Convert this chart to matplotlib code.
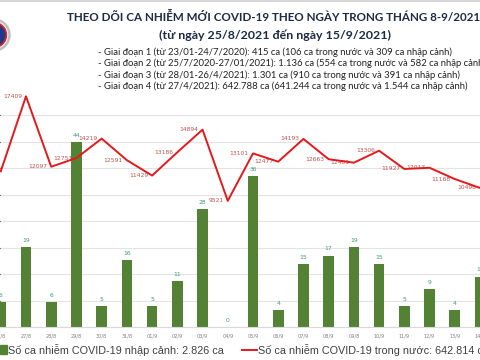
"""
COVID-19 daily cases chart (25/8 - 15/9/2021), cropped view.
Bars = imported cases (left, hidden scale), line = domestic cases (twin axis).
"""
import numpy as np
import matplotlib
matplotlib.use("Agg")
import matplotlib.pyplot as plt
from matplotlib.patches import Circle, Rectangle
from matplotlib.lines import Line2D

# --- data ---------------------------------------------------------------------
days = ["26/8", "27/8", "28/8", "29/8", "30/8", "31/8", "01/9", "02/9", "03/9", "04/9",
        "05/9", "06/9", "07/9", "08/9", "09/8", "10/9", "11/9", "12/9", "13/9", "14/9"]
imported = [6, 19, 6, 44, 5, 16, 5, 11, 28, 0,
            36, 4, 15, 17, 19, 15, 5, 9, 4, 12]
domestic = [11750, 17409, 12097, 12751, 14219, 12591, 11429, 13186, 14894, 9521,
            13101, 12477, 14193, 12663, 12401, 13306, 11927, 12017, 11168, 10496]

title = "THEO DÕI CA NHIỄM MỚI COVID-19 THEO NGÀY TRONG THÁNG 8-9/2021"
subtitle = "(từ ngày 25/8/2021 đến ngày 15/9/2021)"
phases = [
    "- Giai đoạn 1 (từ 23/01-24/7/2020): 415 ca (106 ca trong nước và 309 ca nhập cảnh)",
    "- Giai đoạn 2 (từ 25/7/2020-27/01/2021): 1.136 ca (554 ca trong nước và 582 ca nhập cảnh)",
    "- Giai đoạn 3 (từ 28/01-26/4/2021): 1.301 ca (910 ca trong nước và 391 ca nhập cảnh)",
    "- Giai đoạn 4 (từ 27/4/2021): 642.788 ca (641.244 ca trong nước và 1.544 ca nhập cảnh)",
]
legend_bar = "Số ca nhiễm COVID-19 nhập cảnh: 2.826 ca"
legend_line = "Số ca nhiễm COVID-19 trong nước: 642.814 ca"

# --- style --------------------------------------------------------------------
BAR_COLOR = "#548235"
BAR_LABEL = "#3d9a78"
LINE_COLOR = "#e3191b"
LINE_LABEL = "#c0504d"
GRID = "#e3e3e3"
NAVY = "#1f2a44"
HEAD_FONT = ["Lato", "Noto Sans", "DejaVu Sans"]
LEG_FONT = ["Liberation Sans", "DejaVu Sans"]

LINE_TOP = 18000          # line axis max
BAR_TOP = 56.8            # bar axis max (hidden)

fig = plt.figure(figsize=(4.8, 3.6), dpi=100)
W, H = 480, 360

ax = fig.add_axes([0, 33 / H, 1, 238.5 / H])
x = np.arange(len(days))
ax.bar(x, imported, width=0.42, color=BAR_COLOR, zorder=2)
for xi, v in zip(x, imported):
    ax.text(xi, v + 1.0, str(v), ha="center", va="bottom", fontsize=4.3,
            color=BAR_LABEL, zorder=3)

ax.set_xlim(-0.03, 18.84)
ax.set_ylim(0, BAR_TOP)
line_ticks = np.arange(0, 16001, 2000)
ax.set_yticks(line_ticks * BAR_TOP / LINE_TOP)
ax.yaxis.grid(True, color=GRID, linewidth=0.8, zorder=0)
ax.set_axisbelow(True)
ax.tick_params(axis="y", left=False, labelleft=False)
ax.set_xticks(x)
ax.set_xticklabels(days, fontsize=3.6, color="#808080")
ax.tick_params(axis="x", length=0, pad=5)
for s in ("top", "left", "right"):
    ax.spines[s].set_visible(False)
ax.spines["bottom"].set_color("#d9d9d9")

ax2 = ax.twinx()
ax2.plot(x, domestic, color=LINE_COLOR, linewidth=1.4, zorder=4)
for xi, v in zip(x, domestic):
    ax2.annotate(str(v), (xi, v), xytext=(-3, 0), textcoords="offset points",
                 ha="right", va="center", fontsize=4.3, color=LINE_LABEL)
ax2.set_ylim(0, LINE_TOP)
ax2.axis("off")

# --- header -------------------------------------------------------------------
fig.add_artist(Line2D([0, 1], [1 - 1 / H, 1 - 1 / H], color="#d0d0d0", linewidth=1.2))
fig.text(67 / W, 1 - 17 / H, title, fontsize=8.4, fontweight="bold", color=NAVY,
         family=HEAD_FONT, ha="left", va="center")
fig.text(275 / W, 1 - 35 / H, subtitle, fontsize=8.9, fontweight="bold", color=NAVY,
         family=HEAD_FONT, ha="center", va="center")
for k, line in enumerate(phases):
    fig.text(98 / W, 1 - (52 + 11.4 * k) / H, line, fontsize=6.8, color="#222222",
             family=HEAD_FONT, ha="left", va="center")

# logo, mostly cut off at the left edge
for r, c in [(0.16, "#bfbfbf"), (0.135, "white"), (0.125, "#d0202a"), (0.105, "#1d3a8a")]:
    fig.add_artist(Circle((-0.06, 3.25), r, transform=fig.dpi_scale_trans, color=c))

# --- legend -------------------------------------------------------------------
fig.add_artist(Rectangle((0, 1 - 354 / H), 7 / W, 9 / H, transform=fig.transFigure,
                         color=BAR_COLOR))
fig.text(8 / W, 1 - 349.5 / H, legend_bar, fontsize=7.8, color="#404040",
         family=LEG_FONT, ha="left", va="center")
fig.add_artist(Line2D([242 / W, 257 / W], [1 - 350 / H, 1 - 350 / H],
                      color=LINE_COLOR, linewidth=1.4))
fig.text(258 / W, 1 - 349.5 / H, legend_line, fontsize=7.8, color="#404040",
         family=LEG_FONT, ha="left", va="center")

fig.savefig("out.png", dpi=100)
